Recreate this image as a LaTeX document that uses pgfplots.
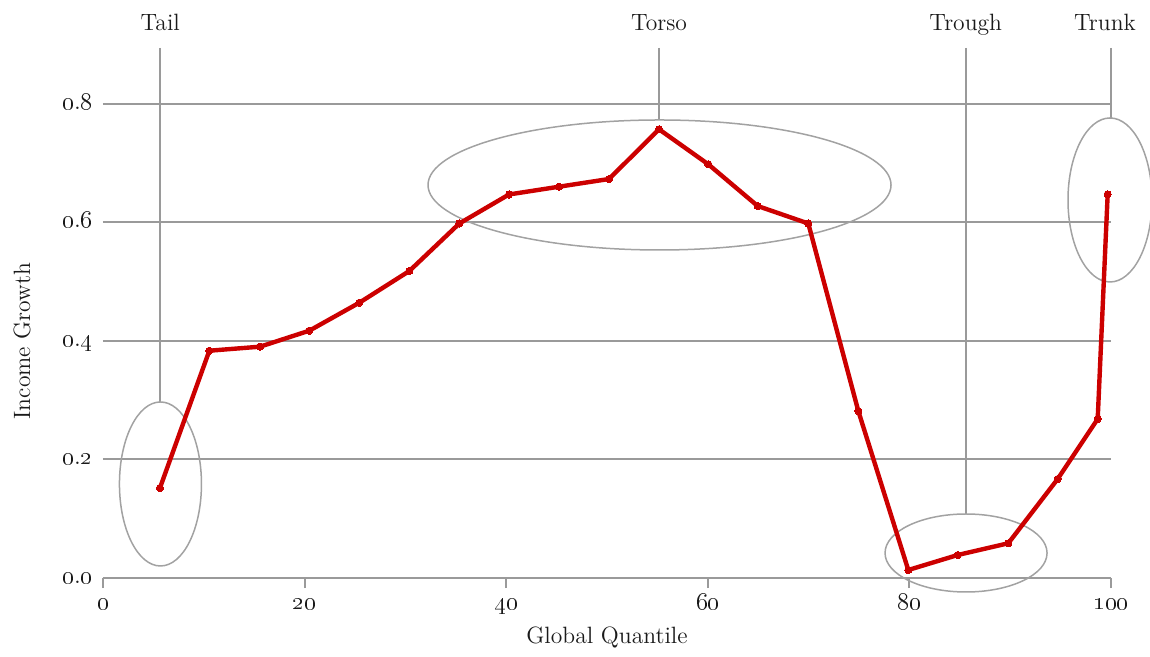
\documentclass[border=0pt]{standalone}
\usepackage{pgfplots}
\pgfplotsset{compat=1.18}
\definecolor{linered}{HTML}{CC0000}
\definecolor{gridgray}{HTML}{9A9A9A}
\definecolor{ringgray}{HTML}{A2A2A2}
\definecolor{txt}{HTML}{1A1A1A}
\newcommand{\os}[1]{\oldstylenums{#1}}
\begin{document}
\fontsize{11.8bp}{14bp}\selectfont
\begin{tikzpicture}
\useasboundingbox (-51.5bp,-39.5bp) rectangle (523.5bp,289bp);
\begin{axis}[
    width=504bp, height=265bp, scale only axis,
    xmin=0, xmax=100, ymin=0, ymax=0.8945,
    axis lines*=left,
    y axis line style={draw=none},
    x axis line style={gridgray, line width=1bp},
    xtick={0,20,40,60,80,100},
    xticklabels={\os{0},\os{20},\os{40},\os{60},\os{80},\os{100}},
    ytick={0,0.2,0.4,0.6,0.8},
    yticklabels={\os{0}.\os{0},\os{0}.\os{2},\os{0}.\os{4},\os{0}.\os{6},\os{0}.\os{8}},
    tick align=outside,
    major tick length=5bp,
    xtick style={gridgray, line width=1bp},
    ytick style={draw=none},
    ymajorgrids,
    major grid style={gridgray, line width=1bp},
    tick label style={font=\fontsize{12.5bp}{14bp}\selectfont},
    xticklabel style={anchor=base, inner sep=0pt, yshift=-10.5bp, text=txt},
    yticklabel style={anchor=base east, inner sep=0pt, xshift=0bp, yshift=-2.6bp, text=txt},
    clip=false,
]
% guide lines up to the group labels
\addplot[gridgray, line width=1bp] coordinates {(5.68,0.8945) (5.68,0.297)};
\addplot[gridgray, line width=1bp] coordinates {(55.16,0.8945) (55.16,0.773)};
\addplot[gridgray, line width=1bp] coordinates {(85.59,0.8945) (85.59,0.108)};
\addplot[gridgray, line width=1bp] coordinates {(99.95,0.8945) (99.95,0.776)};
% rings
\draw[ringgray, line width=0.75bp] (axis cs:5.70,0.1587) ellipse [x radius=20.5bp, y radius=41bp];
\draw[ringgray, line width=0.75bp] (axis cs:55.21,0.6633) ellipse [x radius=115.75bp, y radius=32.5bp];
\draw[ringgray, line width=0.75bp] (axis cs:85.62,0.0422) ellipse [x radius=40.5bp, y radius=19.5bp];
\draw[ringgray, line width=0.75bp] (axis cs:99.90,0.638) ellipse [x radius=21bp, y radius=41bp];
% income growth by global quantile
\addplot[linered, line width=2.2bp, line join=round, mark=*, mark size=1.8bp,
         mark options={fill=linered, draw=linered, line width=0bp}]
coordinates {
    (5.65,0.1519) (10.55,0.3836) (15.58,0.3904) (20.47,0.4174) (25.43,0.4646)
    (30.39,0.5181) (35.35,0.5983) (40.28,0.6473) (45.24,0.6604) (50.20,0.6734)
    (55.16,0.7573) (60.05,0.6982) (64.95,0.6278) (69.97,0.5983) (74.93,0.2819)
    (79.89,0.0135) (84.79,0.0388) (89.81,0.0586) (94.71,0.1671) (98.68,0.2684)
    (99.67,0.6476)
};
\node[anchor=base, text=txt, yshift=8.5bp] at (axis cs:5.68,0.8945) {Tail};
\node[anchor=base, text=txt, yshift=8.5bp] at (axis cs:55.16,0.8945) {Torso};
\node[anchor=base, text=txt, yshift=8.5bp] at (axis cs:85.59,0.8945) {Trough};
\node[anchor=base, text=txt, yshift=8.5bp] at (axis cs:99.4,0.8945) {Trunk};
\end{axis}
\node[rotate=90, text=txt] at (-40.5bp,118.5bp) {Income Growth};
\node[anchor=base, text=txt] at (252bp,-32.5bp) {Global Quantile};
\end{tikzpicture}
\end{document}
